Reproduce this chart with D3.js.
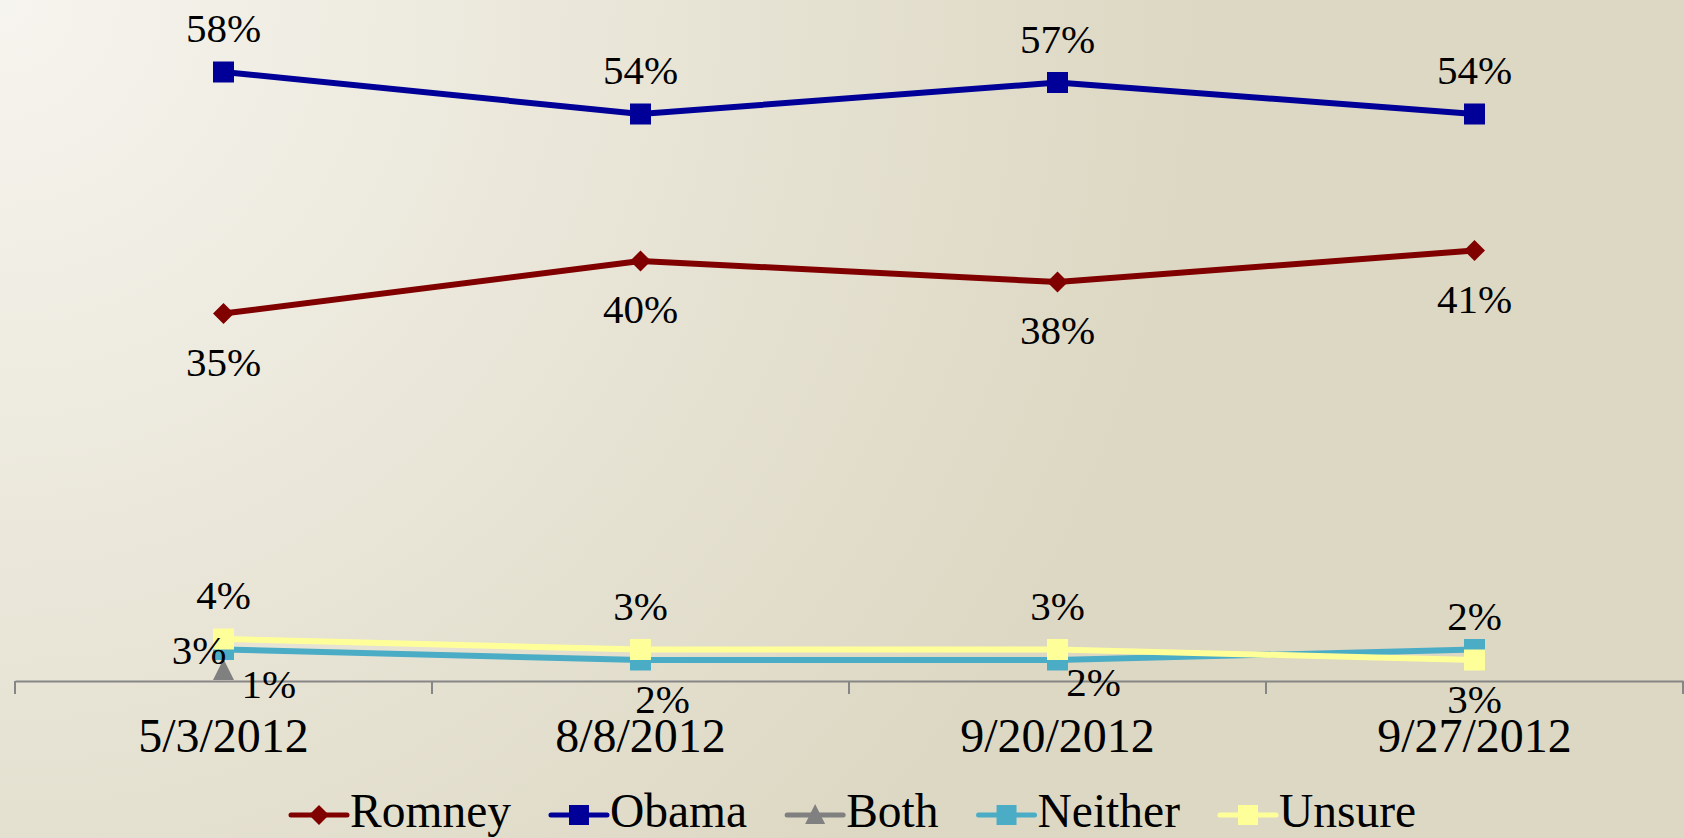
<!DOCTYPE html>
<html>
<head>
<meta charset="utf-8">
<script src="https://cdn.jsdelivr.net/npm/d3@7"></script>
<style>
  html, body { margin: 0; padding: 0; overflow: hidden; }
  svg { display: block; }
  text { font-family: "Liberation Serif", "Times New Roman", serif; fill: #000; }
</style>
</head>
<body>
<svg id="chart" width="1684" height="838"></svg>
<script>
// ---- data ----
const categories = ["5/3/2012", "8/8/2012", "9/20/2012", "9/27/2012"];
const seriesNames = ["Romney", "Obama", "Both", "Neither", "Unsure"];
const romney  = [35, 40, 38, 41];
const obama   = [58, 54, 57, 54];
const both    = [1, null, null, null];
const neither = [3, 2, 2, 3];
const unsure  = [4, 3, 3, 2];
const neitherLabels = ["3%", "2%", "2%", "3%"];
const unsureLabels  = ["4%", "3%", "3%", "2%"];

// ---- styling ----
const colors = { Romney: "#800000", Obama: "#000099", Both: "#808080", Neither: "#4bacc6", Unsure: "#ffff99" };
const markers = { Romney: "diamond", Obama: "square", Both: "triangle", Neither: "square", Unsure: "square" };
// label placement per series per point: [dx, baseline dy, anchor]
const labelPlace = {
  Romney:  [[0, 62, "middle"], [0, 62, "middle"], [0, 62, "middle"], [0, 62, "middle"]],
  Obama:   [[0, -30, "middle"], [0, -30, "middle"], [0, -30, "middle"], [0, -30, "middle"]],
  Both:    [[18, 27, "start"], null, null, null],
  Neither: [[3, 14, "end"], [22, 53, "middle"], [36, 36, "middle"], [0, 63, "middle"]],
  Unsure:  [[0, -30, "middle"], [0, -30, "middle"], [0, -30, "middle"], [0, -30, "middle"]]
};

const W = 1684, H = 838;
const svg = d3.select("#chart");

// background gradient
const defs = svg.append("defs");
const grad = defs.append("radialGradient").attr("id", "bg")
  .attr("gradientUnits", "userSpaceOnUse").attr("cx", 0).attr("cy", 0).attr("r", 1200);
grad.append("stop").attr("offset", 0).attr("stop-color", "#f6f4ee");
grad.append("stop").attr("offset", 1).attr("stop-color", "#ddd8c3");
svg.append("rect").attr("width", W).attr("height", H).attr("fill", "url(#bg)");

// scales
const x = d3.scaleBand().domain(categories).range([15, 1683]).padding(0);
const axisY = 681;
const y = d3.scaleLinear().domain([0, 65]).range([axisY, axisY - 65 * 10.5]);
const cx = c => x(c) + x.bandwidth() / 2;

// axis
const axisG = svg.append("g").attr("transform", `translate(0,${axisY})`)
  .call(d3.axisBottom(x).tickSize(0).tickSizeOuter(0).tickPadding(0));
axisG.select(".domain").attr("stroke", "#868686").attr("stroke-width", 2);
axisG.selectAll(".tick text")
  .attr("dy", null).attr("y", 71)
  .style("font-family", "'Liberation Serif', 'Times New Roman', serif")
  .style("font-size", "48px").attr("fill", "#000");
const boundaries = categories.map(c => x(c)).concat([x.range()[1]]);
axisG.selectAll("line.bt").data(boundaries).enter().append("line")
  .attr("class", "bt")
  .attr("x1", d => d).attr("x2", d => d).attr("y1", 0).attr("y2", 13)
  .attr("stroke", "#868686").attr("stroke-width", 2);

// marker shapes
function markerPath(type, s) {
  const h = s / 2;
  if (type === "square") return `M${-h},${-h}H${h}V${h}H${-h}Z`;
  if (type === "diamond") return `M0,${-h}L${h},0L0,${h}L${-h},0Z`;
  if (type === "triangle") return `M0,${-h - 1}L${h},${h - 1}L${-h},${h - 1}Z`;
}

const seriesData = {
  Romney: romney, Obama: obama, Both: both, Neither: neither, Unsure: unsure
};
const labelText = {
  Romney: romney.map(v => v + "%"),
  Obama: obama.map(v => v + "%"),
  Both: both.map(v => v == null ? null : v + "%"),
  Neither: neitherLabels,
  Unsure: unsureLabels
};

const line = d3.line()
  .defined(d => d.v != null)
  .x(d => cx(d.c)).y(d => y(d.v));

seriesNames.forEach(name => {
  const pts = categories.map((c, i) => ({ c, v: seriesData[name][i] }));
  const g = svg.append("g");
  g.append("path").datum(pts)
    .attr("d", line).attr("fill", "none")
    .attr("stroke", colors[name]).attr("stroke-width", 6)
    .attr("stroke-linejoin", "round").attr("stroke-linecap", "round");
  g.selectAll("path.m").data(pts.filter(d => d.v != null)).enter().append("path")
    .attr("class", "m")
    .attr("transform", d => `translate(${cx(d.c)},${y(d.v)})`)
    .attr("d", markerPath(markers[name], 21))
    .attr("fill", colors[name]);
});

// data labels
const labelsG = svg.append("g");
seriesNames.forEach(name => {
  categories.forEach((c, i) => {
    const v = seriesData[name][i];
    const p = labelPlace[name][i];
    if (v == null || !p) return;
    labelsG.append("text")
      .attr("x", cx(c) + p[0]).attr("y", y(v) + p[1])
      .attr("text-anchor", p[2])
      .style("font-size", "41px")
      .text(labelText[name][i]);
  });
});

// legend
const legend = svg.append("g");
let lx = 291;
const ly = 815;
seriesNames.forEach(name => {
  const item = legend.append("g");
  item.append("line").attr("x1", lx).attr("x2", lx + 56).attr("y1", ly).attr("y2", ly)
    .attr("stroke", colors[name]).attr("stroke-width", 5).attr("stroke-linecap", "round");
  item.append("path").attr("transform", `translate(${lx + 28},${ly})`)
    .attr("d", markerPath(markers[name], 20)).attr("fill", colors[name]);
  const t = item.append("text").attr("x", lx + 59).attr("y", 827)
    .style("font-size", "47.5px").text(name);
  lx = lx + 59 + t.node().getComputedTextLength() + 40;
});
</script>
</body>
</html>
